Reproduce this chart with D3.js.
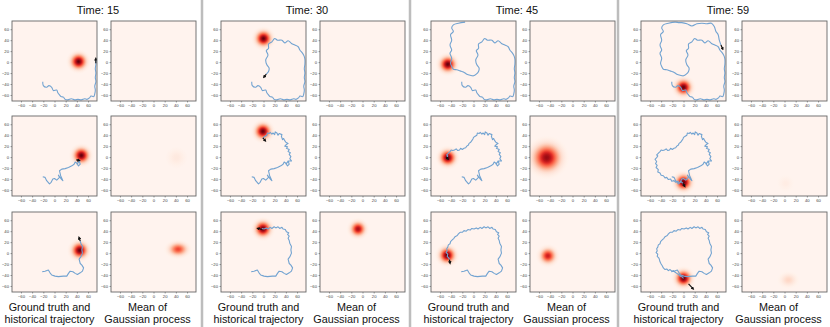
<!DOCTYPE html>
<html>
<head>
<meta charset="utf-8">
<script src="https://cdn.jsdelivr.net/npm/d3@7"></script>
<style>
  body { margin: 0; background: #fff; }
  svg { display: block; font-family: "Liberation Sans", Arial, sans-serif; }
</style>
</head>
<body>
<div id="figure"></div>
<script>
const times = [15, 30, 45, 59];
const tickValues = [-60, -40, -20, 0, 20, 40, 60];
const leftCaption = ['Ground truth and', 'historical trajectory'];
const rightCaption = ['Mean of', 'Gaussian process'];

// trajectory pieces per row: steps 0-15, 15-30, 30-45, 45-59
const trackRow1 = [
    [[-21,-36],[-20,-43],[-14,-46],[-10,-43],[-5,-46],[-2,-52],[4,-51],[6,-56],[9,-60],[12,-63],[16,-64],[19,-68],[24,-69],[30,-67],[36,-69],[42,-68],[48,-69],[54,-67],[58,-68],[63,-65],[65,-62],[70,-63],[72,-58],[73,-51],[72,-44],[74,-36],[73,-28],[74,-20],[73,-12],[74,-4],[74,5]],
    [[73,10],[70,16],[65,22],[62,28],[56,31],[50,34],[44,39],[38,35],[33,40],[25,40],[20,43],[15,37],[9,33],[9,25],[5,21],[8,13],[4,4],[6,-5],[10,-11],[9,-17],[5,-22]],
    [[0,-25],[-6,-24],[-12,-22],[-18,-18],[-24,-16],[-30,-14],[-36,-13],[-39,-8],[-41,-2],[-39,7],[-42,16],[-39,22],[-42,31],[-39,40],[-41,50],[-36,56],[-39,62],[-36,68],[-27,71],[-15,73]],
    [[-8,72],[-3,72],[6,70],[15,66],[24,70],[33,71],[42,70],[50,71],[55,65],[58,56],[62,50],[64,40],[67,31]]
];
const trackRow2 = [
    [[-21,-36],[-17,-37],[-14,-43],[-9,-49],[-6,-46],[-3,-40],[0,-39],[4,-42],[9,-37],[7,-33],[12,-40],[15,-43],[11,-34],[9,-25],[13,-22],[19,-21],[25,-19],[31,-16],[35,-13],[37,-9],[41,-12],[44,-7],[46,-13],[43,-16],[40,-12],[46,-7]],
    [[50,-7],[47,-3],[49,1],[46,5],[48,8],[44,10],[46,14],[41,16],[43,19],[38,20],[41,23],[44,25],[40,27],[38,30],[36,34],[34,32],[32,38],[33,41],[28,43],[26,40],[24,44],[21,46],[20,41],[17,44],[15,42],[12,45],[10,43],[7,44],[6,40],[3,38],[0,36],[-1,33]],
    [[-3,30],[-5,27],[-8,25],[-9,22],[-12,20],[-14,17],[-17,16],[-20,14],[-23,16],[-25,13],[-28,12],[-31,15],[-34,13],[-37,12],[-40,13],[-42,10],[-44,8],[-46,6],[-48,4],[-46,2],[-48,-1]],
    [[-51,-4],[-48,-8],[-50,-12],[-47,-15],[-49,-19],[-45,-23],[-46,-27],[-42,-29],[-40,-33],[-36,-34],[-33,-38],[-30,-37],[-27,-41],[-23,-40],[-21,-44],[-17,-43],[-14,-46],[-10,-44],[-7,-47],[-4,-45],[-1,-48]]
];
const trackRow3 = [
    [[-22,-34],[-17,-33],[-11,-31],[-8,-36],[-5,-40],[1,-42],[7,-43],[16,-42],[22,-42],[25,-37],[28,-33],[33,-34],[37,-37],[41,-39],[46,-36],[50,-33],[52,-27],[49,-22],[46,-19],[44,-11],[47,-7],[50,0],[49,6],[50,12],[47,18],[46,23]],
    [[44,27],[46,31],[43,34],[45,37],[41,39],[39,43],[35,44],[33,47],[29,45],[26,48],[22,46],[19,48],[15,45],[12,47],[8,44],[5,46],[1,44],[-3,45]],
    [[-6,42],[-10,43],[-13,40],[-17,41],[-20,38],[-24,38],[-27,35],[-29,32],[-33,30],[-35,27],[-38,24],[-41,21],[-42,17],[-45,15],[-46,11],[-48,8],[-47,4],[-49,1],[-46,-2],[-47,-6],[-44,-9],[-43,-12]],
    [[-42,-16],[-40,-20],[-38,-23],[-36,-27],[-33,-30],[-30,-29],[-27,-32],[-24,-30],[-21,-33],[-18,-32],[-15,-35],[-12,-37],[-9,-39],[-6,-42],[-3,-43],[0,-46]]
];
const tracks = [trackRow1, trackRow2, trackRow3];

// ground truth position, [time][row] -> [x, y]
const truthBlobs = [
    [[43, 1], [48, 3], [45, 5]],
    [[0, 43], [-1, 47], [-1, 44]],
    [[-46, -4], [-46, -1], [-47, -4]],
    [[0, -46], [0, -46], [0, -46]]
];
const truthSpread = 7.5;

// GP mean, [time][row] -> [x, y, spreadX, spreadY, peak] or null
const gpBlobs = [
    [null, [41, -1, 10, 10, 0.07], [44, 7, 9, 6.5, 0.6]],
    [null, null, [-8, 44, 7, 7, 0.85]],
    [null, [-46, -1, 13.5, 13.5, 0.9], [-44, -5, 7.5, 7.5, 0.75]],
    [null, [2, -48, 8, 8, 0.05], [7, -49, 8.5, 7, 0.15]]
];

// heading arrows, [time][row] -> [x, y, dx, dy]
const arrows = [
    [[74, -2, 0, 8], [39, -5, 5, -1], [46, 22, -2, 6]],
    [[5, -22, -4, -5], [-1, 35, 4, -5], [-3, 43, -7, 2]],
    [null, [-49, 0, 3, -3], [-43, -12, 1, -6]],
    [[67, 31, 3, -7], [-1, -48, 3, -5], [9, -56, 8, -9]]
];

class TrajectoryFigure {
    constructor() {
        this.width = 830;
        this.height = 327;
        this.panelW = 85;
        this.panelH = 80;
        this.truthLeft = [12, 221, 431, 641];
        this.gpLeft = [111, 320, 530, 742];
        this.rowTop = [21, 116, 212];
        this.separators = [202, 410, 618];
        this.bg = d3.interpolateReds(0.01);
        this.blobId = 0;

        this.x = d3.scaleLinear().domain([-76, 76]).range([0, this.panelW]);
        this.y = d3.scaleLinear().domain([-71, 75]).range([this.panelH, 0]);

        this.draw();
    }

    draw() {
        const svg = d3.select('#figure').append('svg')
            .attr('width', this.width)
            .attr('height', this.height);
        this.svg = svg;
        this.defs = svg.append('defs');

        this.defs.append('marker')
            .attr('id', 'head')
            .attr('viewBox', '0 0 10 10')
            .attr('refX', 5).attr('refY', 5)
            .attr('markerWidth', 3.5).attr('markerHeight', 3.5)
            .attr('markerUnits', 'userSpaceOnUse')
            .attr('orient', 'auto')
            .append('path')
            .attr('d', 'M0,0L10,5L0,10z')
            .attr('fill', '#111');

        // grey dividers between time steps
        this.separators.forEach(sx => {
            svg.append('line')
                .attr('x1', sx).attr('x2', sx)
                .attr('y1', 0).attr('y2', this.height)
                .attr('stroke', '#bdbdbd')
                .attr('stroke-width', 2.5);
        });

        times.forEach((t, ti) => {
            const left = this.truthLeft[ti];
            const right = this.gpLeft[ti] + this.panelW;
            const mid = (left + right) / 2 - 6;

            svg.append('text')
                .attr('x', mid).attr('y', 13.5)
                .attr('text-anchor', 'middle')
                .attr('font-size', '11px')
                .attr('fill', '#111')
                .text('Time: ' + t);

            this.rowTop.forEach((top, ri) => {
                const path = tracks[ri].slice(0, ti + 1).flat();
                this.drawPanel(left, top, {
                    blob: [...truthBlobs[ti][ri], truthSpread, truthSpread, 1],
                    path: path,
                    smooth: ri === 0,
                    arrow: arrows[ti][ri]
                });
                this.drawPanel(this.gpLeft[ti], top, {
                    blob: gpBlobs[ti][ri]
                });
            });

            this.caption(this.truthLeft[ti] + this.panelW / 2 - 5, leftCaption);
            this.caption(this.gpLeft[ti] + this.panelW / 2 - 6, rightCaption);
        });
    }

    caption(cx, lines) {
        lines.forEach((line, i) => {
            this.svg.append('text')
                .attr('x', cx).attr('y', 311 + i * 12)
                .attr('text-anchor', 'middle')
                .attr('font-size', '10.8px')
                .attr('fill', '#111')
                .text(line);
        });
    }

    gradient(peak) {
        const id = 'blob-' + (this.blobId++);
        const grad = this.defs.append('radialGradient').attr('id', id);
        d3.range(0, 13).forEach(i => {
            const t = i / 12;
            const v = Math.max(0.01, peak * Math.exp(-(3 * t) * (3 * t) / 2));
            grad.append('stop')
                .attr('offset', t)
                .attr('stop-color', d3.interpolateReds(v));
        });
        return id;
    }

    drawPanel(px, py, opts) {
        const x = this.x, y = this.y;
        const w = this.panelW, h = this.panelH;
        const g = this.svg.append('g').attr('transform', `translate(${px},${py})`);

        const clipId = 'clip-' + px + '-' + py;
        this.defs.append('clipPath').attr('id', clipId)
            .append('rect').attr('width', w).attr('height', h);

        const body = g.append('g').attr('clip-path', `url(#${clipId})`);
        body.append('rect')
            .attr('width', w).attr('height', h)
            .attr('fill', this.bg);

        if (opts.blob) {
            const [bx, by, sx, sy, peak] = opts.blob;
            const id = this.gradient(peak);
            body.append('ellipse')
                .attr('cx', x(bx)).attr('cy', y(by))
                .attr('rx', Math.abs(x(3 * sx) - x(0)))
                .attr('ry', Math.abs(y(3 * sy) - y(0)))
                .attr('fill', `url(#${id})`);
        }

        if (opts.path) {
            const line = d3.line()
                .x(d => x(d[0]))
                .y(d => y(d[1]))
                .curve(opts.smooth ? d3.curveCatmullRom : d3.curveLinear);
            body.append('path')
                .attr('d', line(opts.path))
                .attr('fill', 'none')
                .attr('stroke', '#72a3d1')
                .attr('stroke-width', 1.1)
                .attr('stroke-linejoin', 'round');
        }

        if (opts.arrow) {
            const [ax, ay, dx, dy] = opts.arrow;
            body.append('line')
                .attr('x1', x(ax)).attr('y1', y(ay))
                .attr('x2', x(ax + dx)).attr('y2', y(ay + dy))
                .attr('stroke', '#111')
                .attr('stroke-width', 1.2)
                .attr('marker-end', 'url(#head)');
        }

        g.append('rect')
            .attr('width', w).attr('height', h)
            .attr('fill', 'none')
            .attr('stroke', '#666')
            .attr('stroke-width', 0.9);

        const xAxis = g.append('g')
            .attr('transform', `translate(0,${h})`)
            .call(d3.axisBottom(x).tickValues(tickValues).tickSize(1.5).tickPadding(1.5));
        const yAxis = g.append('g')
            .call(d3.axisLeft(y).tickValues(tickValues).tickSize(1.5).tickPadding(1.5));

        [xAxis, yAxis].forEach(ax => {
            ax.select('.domain').remove();
            ax.selectAll('line').attr('stroke', '#444').attr('stroke-width', 0.5);
            ax.selectAll('text')
                .attr('font-size', '4.2px')
                .attr('font-family', '"Liberation Sans", Arial, sans-serif')
                .attr('fill', '#444');
        });
    }
}

document.addEventListener('DOMContentLoaded', () => {
    new TrajectoryFigure();
});
</script>
</body>
</html>
